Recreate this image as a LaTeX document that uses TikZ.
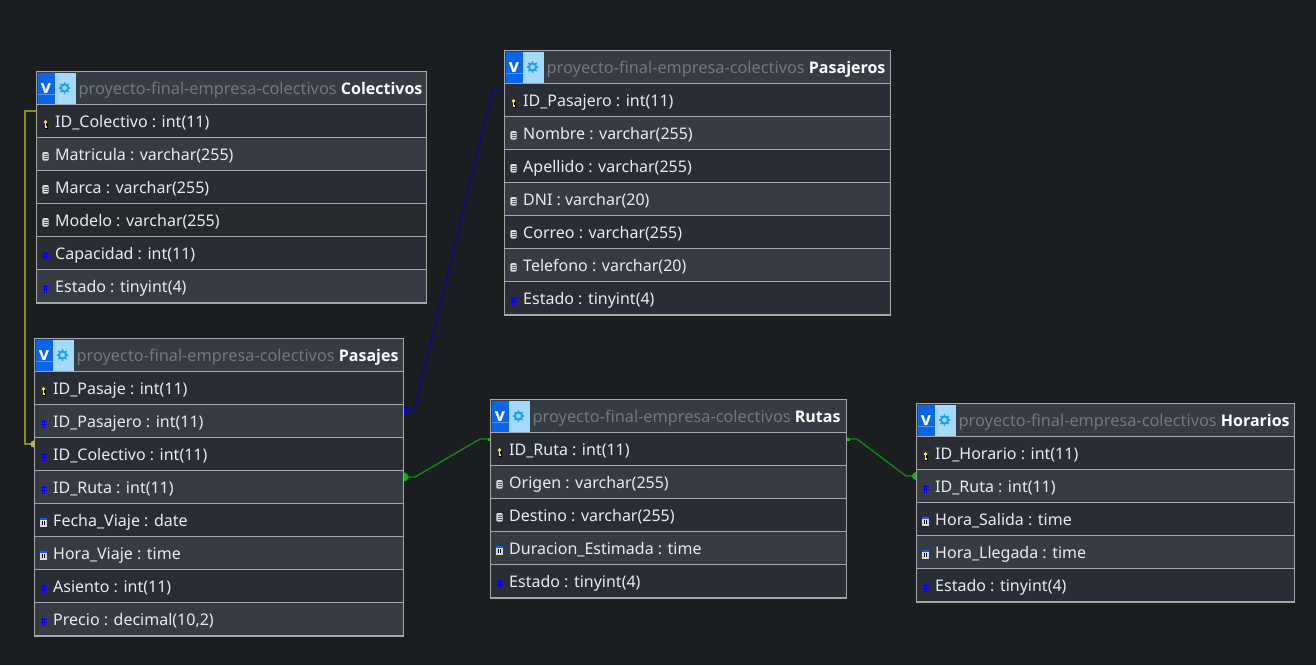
\documentclass[tikz,border=0pt]{standalone}
\usepackage{fontspec}
\setmainfont{Noto Sans}
\newfontfamily\headbold{Open Sans}
\definecolor{canvasbg}{HTML}{1B1E21}
\definecolor{rowdark}{HTML}{2A2D35}
\definecolor{rowlight}{HTML}{373C44}
\definecolor{rowdeep}{HTML}{262A2D}
\definecolor{tableline}{HTML}{A4A6A8}
\definecolor{titlegrey}{HTML}{74777B}
\definecolor{rowtext}{HTML}{EAEAEA}
\definecolor{viewblue}{HTML}{0A66E8}
\definecolor{viewpale}{HTML}{A6D8FA}
\definecolor{gearblue}{HTML}{18A0F0}
\definecolor{linkyellow}{HTML}{8C8C10}
\definecolor{linkblue}{HTML}{0A0A90}
\definecolor{linkgreen}{HTML}{0E8A0E}
\tikzset{
  dbcell/.style={draw=tableline, line width=1pt, anchor=north west, inner sep=0pt, minimum height=33pt},
  dblabel/.style={anchor=base west, inner sep=0pt, font=\fontsize{16}{18}\selectfont},
  linkline/.style={line width=1.4pt},
  Colectivos-4 cell/.style={fill=rowdeep}
}
% small field icons, all at the position #1
\newcommand{\icok}[1]{%
  \fill[black] ([shift={(-.8pt,-7.5pt)}]#1) rectangle ++(3.2pt,6pt);
  \fill[yellow!85!white] ([shift={(0pt,-1pt)}]#1) circle (1.8pt);
  \fill[yellow!85!white] ([shift={(-0.6pt,-7pt)}]#1) rectangle ++(1.3pt,5.5pt);
  \fill[yellow!85!white] ([shift={(0.4pt,-6.5pt)}]#1) rectangle ++(1.3pt,1.2pt);}
\newcommand{\icoc}[1]{%
  \fill[white!85!black, rounded corners=1.2pt] ([shift={(-3.2pt,-6.5pt)}]#1) rectangle ++(6.4pt,8.5pt);
  \draw[black!65, line width=.5pt] ([shift={(-2pt,-.6pt)}]#1) -- ++(4pt,0) ([shift={(-2pt,-2.4pt)}]#1) -- ++(4pt,0) ([shift={(-2pt,-4.2pt)}]#1) -- ++(4pt,0);}
\newcommand{\icon}[1]{%
  \draw[blue, line width=.8pt] ([shift={(-1.3pt,-6.5pt)}]#1) -- ++(0,8pt) ([shift={(1.3pt,-6.5pt)}]#1) -- ++(0,8pt)
    ([shift={(-3pt,-.8pt)}]#1) -- ++(6pt,0) ([shift={(-3pt,-3.6pt)}]#1) -- ++(6pt,0);}
\newcommand{\icot}[1]{%
  \fill[white!85!black] ([shift={(-3.5pt,-6.8pt)}]#1) rectangle ++(7pt,8.4pt);
  \fill[blue!60!cyan] ([shift={(-3.5pt,.4pt)}]#1) rectangle ++(7pt,1.6pt);
  \fill[black] ([shift={(-1.5pt,-5.2pt)}]#1) rectangle ++(3pt,4.4pt);
  \fill[white] ([shift={(-.4pt,-4.6pt)}]#1) rectangle ++(.8pt,3.2pt);}
% half dot at a table edge: #1 colour, #2 position, #3 start angle, #4 radius
\newcommand{\halfdot}[4]{\fill[#1] (#2) ++(#3:#4) arc (#3:#3+180:#4) -- cycle;}
% #1 name, #2 x, #3 y, #4 width, #5 rows
\newcommand{\dbtable}[5]{%
  \node[dbcell, fill=rowlight, minimum width=#4pt] (#1) at (#2,#3) {};
  \fill[viewpale] ([shift={(1.5pt,-1.5pt)}]#1.north west) rectangle ++(38pt,-31pt);
  \fill[viewblue] ([shift={(1.5pt,-1.5pt)}]#1.north west) rectangle ++(17pt,-31pt);
  \fill[white!30!viewblue] ([shift={(1.5pt,-22.5pt)}]#1.north west) rectangle ++(17pt,-1.5pt);
  \node[font=\headbold\bfseries\fontsize{18}{18}\selectfont, text=white, inner sep=0pt, anchor=base] at ([shift={(10pt,-22pt)}]#1.north west) {v};
  \draw[gearblue, line width=2pt] ([shift={(28.5pt,-17pt)}]#1.north west) circle (3.6pt);
  \foreach \a in {0,45,...,315}
    \fill[gearblue] ([shift={(28.5pt,-17pt)}]#1.north west) ++(\a:5pt) circle (1pt);
  \node[dblabel, font=\fontsize{16.3}{18}\selectfont, text=titlegrey] at ([shift={(42.5pt,-23pt)}]#1.north west)
    {proyecto-final-empresa-colectivos \textcolor{white}{\headbold\bfseries\fontsize{16}{18}\selectfont #1}};
  \foreach \ico/\txt [count=\i from 1] in {#5} {
    \ifodd\i\def\rowcol{rowdark}\else\def\rowcol{rowlight}\fi
    \node[dbcell, fill=\rowcol, minimum width=#4pt, #1-\i\space cell/.try] (#1-\i) at (#2,{#3+33*\i}) {};
    \coordinate (ic) at ([xshift=9.5pt]#1-\i.west);
    \csname ico\ico\endcsname{ic}
    \node[dblabel, text=rowtext] at ([shift={(19pt,-6.5pt)}]#1-\i.west) {\txt};
    \xdef\lastrow{#1-\i}
  }
  \draw[tableline, line width=2pt] ([yshift=-.2pt]\lastrow.south west) -- ([yshift=-.2pt]\lastrow.south east);
}
\begin{document}
\begin{tikzpicture}[x=1pt, y=-1pt]
  \fill[canvasbg] (0,0) rectangle (1316,665);
  \useasboundingbox (0,0) rectangle (1316,665);

  \dbtable{Colectivos}{36}{71}{390}{k/ID\_Colectivo : int(11), c/Matricula : varchar(255), c/Marca : varchar(255), c/Modelo : varchar(255), n/Capacidad : int(11), n/Estado : tinyint(4)}
  \dbtable{Pasajes}{34}{338}{369}{k/ID\_Pasaje : int(11), n/ID\_Pasajero : int(11), n/ID\_Colectivo : int(11), n/ID\_Ruta : int(11), t/Fecha\_Viaje : date, t/Hora\_Viaje : time, n/Asiento : int(11), n/{Precio : decimal(10,2)}}
  \dbtable{Pasajeros}{504}{50}{386}{k/ID\_Pasajero : int(11), c/Nombre : varchar(255), c/Apellido : varchar(255), c/DNI : varchar(20), c/Correo : varchar(255), c/Telefono : varchar(20), n/Estado : tinyint(4)}
  \dbtable{Rutas}{490}{399}{356}{k/ID\_Ruta : int(11), c/Origen : varchar(255), c/Destino : varchar(255), t/Duracion\_Estimada : time, n/Estado : tinyint(4)}
  \dbtable{Horarios}{916}{403}{378}{k/ID\_Horario : int(11), n/ID\_Ruta : int(11), t/Hora\_Salida : time, t/Hora\_Llegada : time, n/Estado : tinyint(4)}

  % relations
  \draw[linkline, linkyellow] ([yshift=10pt]Colectivos-1.west) -- ++(-11,0) |- ([yshift=10pt]Pasajes-3.west);
  \halfdot{yellow!70!black}{[yshift=10pt]Pasajes-3.west}{90}{3.6pt}

  \draw[linkline, linkblue] ([yshift=10pt]Pasajeros-1.west) -- ++(-11,0) -- ([shift={(10pt,10pt)}]Pasajes-2.east) -- ([yshift=10pt]Pasajes-2.east);
  \halfdot{blue!85!black}{[yshift=10pt]Pasajes-2.east}{-90}{4.2pt}

  \draw[linkline, linkgreen] ([yshift=10pt]Rutas-1.west) -- ++(-10,0) -- ([shift={(11pt,10pt)}]Pasajes-4.east) -- ([yshift=10pt]Pasajes-4.east);
  \halfdot{green!75!black}{[yshift=10pt]Pasajes-4.east}{-90}{4.5pt}
  \fill[green!75!black] ([shift={(-2pt,8.5pt)}]Rutas-1.west) rectangle ++(2pt,3pt);

  \draw[linkline, linkgreen] ([yshift=10pt]Rutas-1.east) -- ++(10,0) -- ([shift={(-10pt,10pt)}]Horarios-2.west) -- ([yshift=10pt]Horarios-2.west);
  \fill[green!75!black] ([shift={(0pt,8.5pt)}]Rutas-1.east) rectangle ++(3pt,3pt);
  \halfdot{green!75!black}{[yshift=10pt]Horarios-2.west}{90}{4pt}
\end{tikzpicture}
\end{document}
